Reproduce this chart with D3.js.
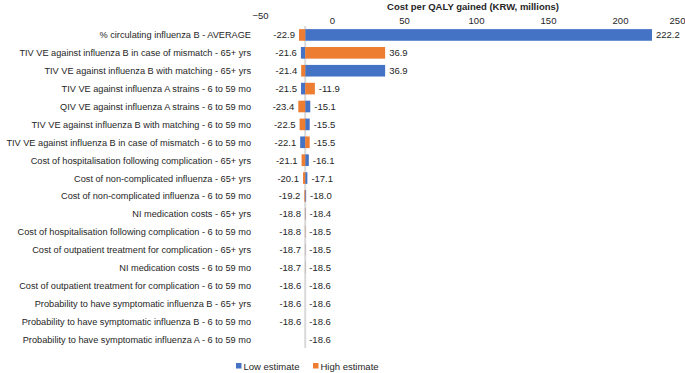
<!DOCTYPE html>
<html>
<head>
<meta charset="utf-8">
<script src="https://cdn.jsdelivr.net/npm/d3@7"></script>
<style>
  body { margin: 0; background: #fff; }
  svg { font-family: "Liberation Sans", Arial, sans-serif; }
</style>
</head>
<body>
<div id="chart"></div>
<script>
// Tham số (nhãn trục)
const categories = [
    "% circulating influenza B - AVERAGE",
    "TIV VE against influenza B in case of mismatch - 65+ yrs",
    "TIV VE against influenza B with matching - 65+ yrs",
    "TIV VE against influenza A strains - 6 to 59 mo",
    "QIV VE against influenza A strains - 6 to 59 mo",
    "TIV VE against influenza B with matching - 6 to 59 mo",
    "TIV VE against influenza B in case of mismatch - 6 to 59 mo",
    "Cost of hospitalisation following complication - 65+ yrs",
    "Cost of non-complicated influenza - 65+ yrs",
    "Cost of non-complicated influenza - 6 to 59 mo",
    "NI medication costs - 65+ yrs",
    "Cost of hospitalisation following complication - 6 to 59 mo",
    "Cost of outpatient treatment for complication - 65+ yrs",
    "NI medication costs - 6 to 59 mo",
    "Cost of outpatient treatment for complication - 6 to 59 mo",
    "Probability to have symptomatic influenza B - 65+ yrs",
    "Probability to have symptomatic influenza B - 6 to 59 mo",
    "Probability to have symptomatic influenza A - 6 to 59 mo"
];
// Giá trị khi tham số ở mức thấp / cao
const lowEstimate = [222.2, -21.6, 36.9, -21.5, -15.1, -15.5, -22.1, -16.1, -17.1, -18.0,
    -18.4, -18.5, -18.5, -18.5, -18.6, -18.6, -18.6, -18.6];
const highEstimate = [-22.9, 36.9, -21.4, -11.9, -23.4, -22.5, -15.5, -21.1, -20.1, -19.2,
    -18.8, -18.8, -18.7, -18.7, -18.6, -18.6, -18.6, null];
const baseCase = -18.6;
const xTicks = [-50, 0, 50, 100, 150, 200, 250];
const seriesNames = ["Low estimate", "High estimate"];

const W = 685, H = 373;
const colors = { low: "#4472C4", high: "#ED7D31" };

const svg = d3.select("#chart").append("svg")
    .attr("width", W).attr("height", H);

const x = d3.scaleLinear().domain([-50, 250]).range([260, 692]);
const y = d3.scaleBand().domain(categories).range([26, 348])
    .paddingInner(0.35).paddingOuter(0.175);

// Tiêu đề trục
svg.append("text")
    .attr("x", 473).attr("y", 10)
    .attr("text-anchor", "middle")
    .style("font-size", "9.5px").style("font-weight", "bold").style("fill", "#262626")
    .text("Cost per QALY gained (KRW, millions)");

// Trục X phía trên
const axis = svg.append("g")
    .attr("transform", "translate(0,24)")
    .call(d3.axisTop(x).tickValues(xTicks).tickSize(0).tickPadding(0).tickFormat(d3.format("d")))
    .attr("font-family", null);
axis.select(".domain").remove();
axis.selectAll("text")
    .style("font-size", "9.5px").style("fill", "#262626");
axis.selectAll(".tick").filter(d => d === -50).select("text").attr("dy", "-5");
axis.selectAll(".tick").filter(d => d === 250).select("text").attr("dx", "-15");

// Đường base case
svg.append("line")
    .attr("x1", x(baseCase)).attr("x2", x(baseCase))
    .attr("y1", 26).attr("y2", 348)
    .style("stroke", "#d9d9d9").style("stroke-width", 2);

const rows = categories.map((c, i) => ({ c, low: lowEstimate[i], high: highEstimate[i] }));

// Vẽ cột
function drawBars(key) {
    svg.append("g").selectAll("rect")
        .data(rows.filter(d => d[key] !== null))
        .enter().append("rect")
        .attr("x", d => Math.min(x(d[key]), x(baseCase)))
        .attr("y", d => y(d.c))
        .attr("width", d => Math.abs(x(d[key]) - x(baseCase)))
        .attr("height", y.bandwidth())
        .attr("fill", colors[key]);
}
drawBars("low");
drawBars("high");

// Nhãn giá trị
const labels = svg.append("g").style("font-size", "9.5px").style("fill", "#262626");
rows.forEach(d => {
    const vals = [d.low, d.high].filter(v => v !== null);
    const mn = d3.min(vals), mx = d3.max(vals);
    const cy = y(d.c) + y.bandwidth() / 2 + 3.5;
    if (vals.length > 1) {
        labels.append("text")
            .attr("x", Math.min(x(mn), x(baseCase)) - 4).attr("y", cy)
            .attr("text-anchor", "end").text(mn.toFixed(1));
    }
    labels.append("text")
        .attr("x", Math.max(x(mx), x(baseCase)) + 4).attr("y", cy)
        .attr("text-anchor", "start").text(mx.toFixed(1));
});

// Nhãn tham số
svg.append("g").selectAll("text")
    .data(categories).enter().append("text")
    .attr("x", 251)
    .attr("y", d => y(d) + y.bandwidth() / 2 + 3.5)
    .attr("text-anchor", "end")
    .style("font-size", "9.2px").style("fill", "#262626")
    .text(d => d);

// Chú thích
const legend = svg.append("g").attr("transform", "translate(236,363)");
seriesNames.forEach((name, i) => {
    const g = legend.append("g").attr("transform", `translate(${i * 77},0)`);
    g.append("rect").attr("width", 5.5).attr("height", 5.5)
        .attr("fill", i === 0 ? colors.low : colors.high);
    g.append("text").attr("x", 7.5).attr("y", 6.5)
        .style("font-size", "9.5px").style("fill", "#262626").text(name);
});
</script>
</body>
</html>
